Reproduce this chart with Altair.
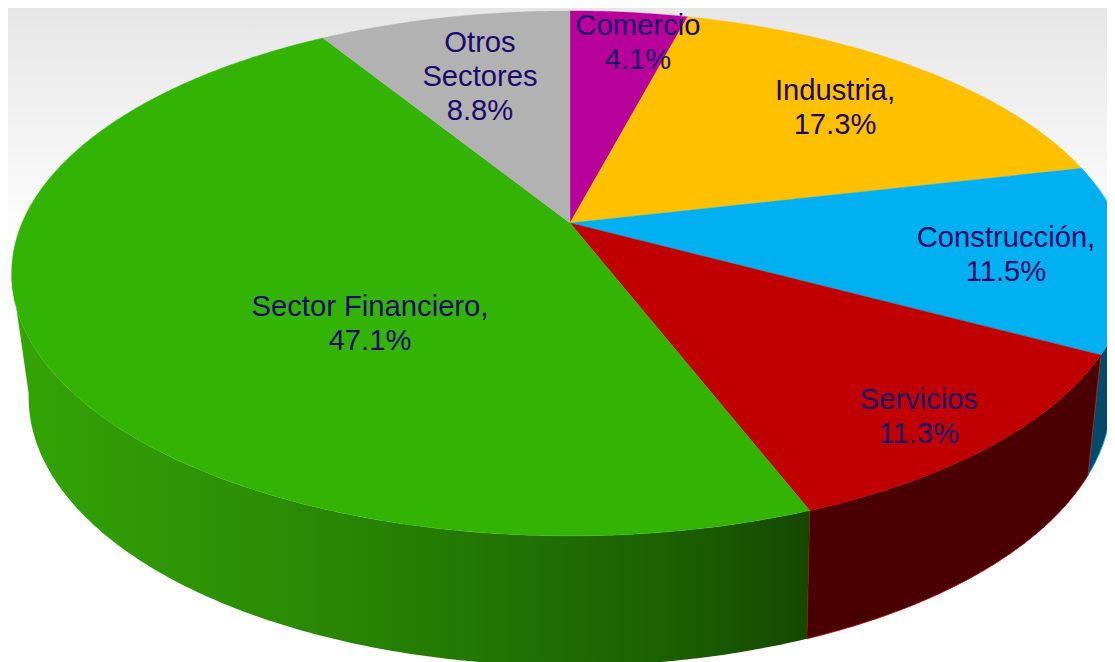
import numpy as np
import pandas as pd
import altair as alt

# --- values (clockwise from 12 o'clock)
CATEGORIES = ["Comercio", "Industria", "Construcción", "Servicios", "Sector Financiero", "Otros Sectores"]
SHARES = [4.1, 17.3, 11.5, 11.3, 47.1, 8.8]
LABEL_LINES = [["Comercio", "4.1%"], ["Industria,", "17.3%"], ["Construcción,", "11.5%"],
               ["Servicios", "11.3%"], ["Sector Financiero,", "47.1%"], ["Otros", "Sectores", "8.8%"]]
# --- style
TOP_COLORS = ["#b8009a", "#ffc000", "#00b0f0", "#c00000", "#33b404", "#b2b2b2"]
WALL_COLORS = {2: "#024a68", 3: "#4a0000"}
TEXT_COLOR = "#1c0a6a"
FONT = "Liberation Sans"
FONT_SIZE = 29.2
LINE_GAP = 33.8
LABEL_CENTRES = [(638, 42), (835, 107), (1006, 254), (919, 416), (370, 323), (480, 76)]

# page-pixel view of the plot (the page margin is 8px)
X_DOMAIN = [8, 1107]
Y_DOMAIN = [661, 7]
CX = 570


def rim(theta, cy, a, b, k):
    """Perspective projection of a circle point, theta clockwise from the top."""
    u, v = np.sin(theta), -np.cos(theta)
    return CX + a * u / (1 - k * v), cy + b * v / (1 - k * v)


TOP = dict(cy=222.0, a=548.0, b=252.8, k=0.192)
BOTTOM = dict(cy=339.2, a=529.0, b=256.4, k=0.2125)

edges = np.cumsum([0] + SHARES) / sum(SHARES) * 2 * np.pi
RIGHT_TANGENT, LEFT_TANGENT = np.radians(101.5), np.radians(258.5)


def arc(start, end):
    n = max(2, int(np.degrees(end - start) * 2) + 1)
    return np.linspace(start, end, n)


def frame(xs, ys):
    xs, ys = list(xs), list(ys)
    xs.append(xs[0])
    ys.append(ys[0])
    return pd.DataFrame({"i": range(len(xs)), "x": xs, "y": ys})


def polygon(df, **mark):
    return alt.Chart(df).mark_line(clip=True, interpolate="linear", **mark).encode(
        x=alt.X("x:Q", scale=alt.Scale(domain=X_DOMAIN), axis=None),
        y=alt.Y("y:Q", scale=alt.Scale(domain=Y_DOMAIN), axis=None),
        order="i:Q",
    )


layers = []

# page background fading to white
bg = pd.DataFrame({"x": [X_DOMAIN[0]], "x2": [X_DOMAIN[1]], "y": [7], "y2": [250]})
layers.append(
    alt.Chart(bg).mark_rect(
        fill=alt.Gradient(
            gradient="linear", x1=0, y1=0, x2=0, y2=1,
            stops=[alt.GradientStop(offset=0, color="#e6e6e6"),
                   alt.GradientStop(offset=1, color="#ffffff")],
        )
    ).encode(
        x=alt.X("x:Q", scale=alt.Scale(domain=X_DOMAIN), axis=None), x2="x2:Q",
        y=alt.Y("y:Q", scale=alt.Scale(domain=Y_DOMAIN), axis=None), y2="y2:Q",
    )
)

# side walls of the visible front part
for idx in (2, 3, 4):
    start = max(edges[idx], RIGHT_TANGENT)
    end = min(edges[idx + 1], LEFT_TANGENT)
    th = arc(start, end)
    tx, ty = rim(th, **TOP)
    bx, by = rim(th[::-1], **BOTTOM)
    df = frame(np.r_[tx, bx], np.r_[ty, by])
    if idx == 4:
        fill = alt.Gradient(
            gradient="linear", x1=1, y1=0, x2=0, y2=0,
            stops=[alt.GradientStop(offset=0, color="#164700"),
                   alt.GradientStop(offset=0.14, color="#1a5c02"),
                   alt.GradientStop(offset=0.39, color="#227403"),
                   alt.GradientStop(offset=0.64, color="#2a8a05"),
                   alt.GradientStop(offset=1, color="#33a505")],
        )
        layers.append(polygon(df, fill=fill, strokeWidth=0))
    else:
        layers.append(polygon(df, fill=WALL_COLORS[idx], stroke=TOP_COLORS[idx], strokeWidth=0.8))

# top surface
for idx, col in enumerate(TOP_COLORS):
    th = arc(edges[idx], edges[idx + 1])
    rx, ry = rim(th, **TOP)
    df = frame(np.r_[CX, rx], np.r_[TOP["cy"], ry])
    layers.append(polygon(df, fill=col, stroke=col, strokeWidth=0.4))

# labels
rows = []
for lines, (lx, ly) in zip(LABEL_LINES, LABEL_CENTRES):
    for j, line in enumerate(lines):
        rows.append({"x": lx, "y": ly + (j - (len(lines) - 1) / 2) * LINE_GAP, "t": line})
layers.append(
    alt.Chart(pd.DataFrame(rows)).mark_text(
        font=FONT, fontSize=FONT_SIZE, color=TEXT_COLOR, align="center", baseline="middle"
    ).encode(
        x=alt.X("x:Q", scale=alt.Scale(domain=X_DOMAIN), axis=None),
        y=alt.Y("y:Q", scale=alt.Scale(domain=Y_DOMAIN), axis=None),
        text="t:N",
    )
)

chart = alt.layer(*layers).properties(
    width=X_DOMAIN[1] - X_DOMAIN[0],
    height=Y_DOMAIN[0] - Y_DOMAIN[1],
    padding=0,
    autosize=alt.AutoSizeParams(type="none"),
    background="white",
).configure_view(stroke=None)

chart.save("out.html", embed_options={"renderer": "svg", "actions": False})
